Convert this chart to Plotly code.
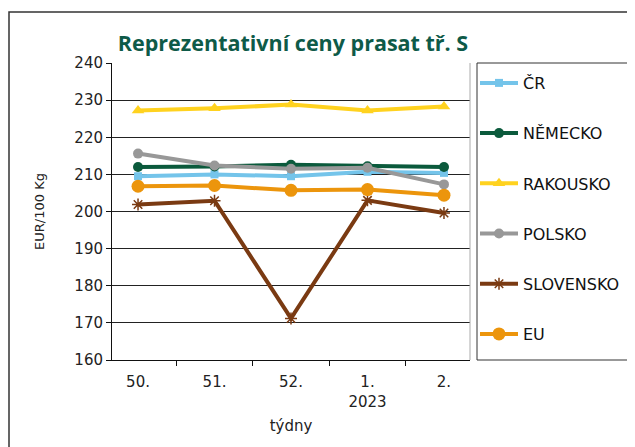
import plotly.graph_objects as go

weeks = ["50.", "51.", "52.", "1.<br>2023", "2."]
cr = [209.5, 210.0, 209.5, 210.7, 210.4]
nemecko = [212.0, 212.1, 212.6, 212.2, 212.0]
rakousko = [227.2, 227.8, 228.8, 227.2, 228.3]
polsko = [215.6, 212.4, 211.5, 211.8, 207.3]
slovensko = [201.9, 202.9, 171.2, 203.0, 199.6]
eu = [206.8, 207.0, 205.7, 205.9, 204.4]

series = [
    ("ČR", cr, "#74C4EA", "square", 8),
    ("NĚMECKO", nemecko, "#0B5A3C", "circle", 10),
    ("RAKOUSKO", rakousko, "#FFD21F", "triangle-up", 11),
    ("POLSKO", polsko, "#989898", "circle", 10),
    ("SLOVENSKO", slovensko, "#7A3A12", "asterisk-open", 10),
    ("EU", eu, "#EC950C", "circle", 13),
]

fig = go.Figure()
for i, (name, vals, color, sym, size) in enumerate(series):
    marker = dict(symbol=sym, size=size, color=color)
    if sym == "asterisk-open":
        marker["line"] = dict(color=color, width=1.5)
    fig.add_trace(go.Scatter(
        x=weeks, y=vals, name=name, mode="lines+markers",
        line=dict(color=color, width=4), marker=marker,
        legendgroup="g%d" % i,
    ))

# page offset of the plot div (body margin)
OFF = 8
W, H = 635, 447
L, R, T, B = 112 - OFF, 470 - OFF, 63 - OFF, 360 - OFF
pw, ph = R - L, B - T

def px(x):
    return (x - OFF - L) / pw

def py(y):
    return (B - (y - OFF)) / ph

fig.update_layout(
    width=W, height=H,
    margin=dict(l=L, r=W - R, t=T, b=H - B),
    paper_bgcolor="white", plot_bgcolor="white",
    font=dict(family="DejaVu Sans", size=14, color="#222222"),
    title=dict(text="<b>Reprezentativní ceny prasat tř. S</b>",
               font=dict(family="Open Sans", size=21.5, color="#0E5A48"),
               x=px(293), xanchor="center", xref="paper",
               y=1 - (43 - OFF) / H, yanchor="middle"),
    showlegend=True,
    legend=dict(x=px(475), xanchor="left", y=py(66), yanchor="top",
                bgcolor="rgba(0,0,0,0)", borderwidth=0,
                font=dict(family="DejaVu Sans", size=16, color="#111111"),
                tracegroupgap=26.4, itemwidth=38),
    shapes=[
        dict(type="rect", xref="paper", yref="paper",
             x0=px(9), x1=px(642), y0=py(12), y1=py(452),
             line=dict(color="#333333", width=1.5), fillcolor="rgba(0,0,0,0)", layer="below"),
        dict(type="rect", xref="paper", yref="paper",
             x0=px(477), x1=px(631), y0=0, y1=1,
             line=dict(color="#333333", width=1), fillcolor="rgba(0,0,0,0)"),
        dict(type="line", xref="paper", yref="paper", x0=1, x1=1, y0=0, y1=1,
             line=dict(color="#aaaaaa", width=1)),
    ],
)

fig.update_xaxes(
    type="category", showgrid=False, showline=True, linecolor="#111111", linewidth=1,
    ticks="outside", ticklen=5, tickcolor="#111111", tickson="boundaries",
    ticklabelstandoff=8,
    tickfont=dict(family="DejaVu Sans", size=15, color="#222222"),
    title=dict(text="týdny", font=dict(family="DejaVu Sans", size=15, color="#222222"), standoff=10),
)
fig.update_yaxes(
    range=[160, 240], dtick=10, showgrid=True, gridcolor="#222222", gridwidth=1,
    showline=True, linecolor="#111111", linewidth=1,
    ticks="outside", ticklen=5, tickcolor="#111111",
    tickfont=dict(family="DejaVu Sans", size=15, color="#222222"),
    title=dict(text="EUR/100 Kg", font=dict(family="DejaVu Sans", size=13, color="#222222"), standoff=26),
    zeroline=False,
)

fig.write_html("out.html")
